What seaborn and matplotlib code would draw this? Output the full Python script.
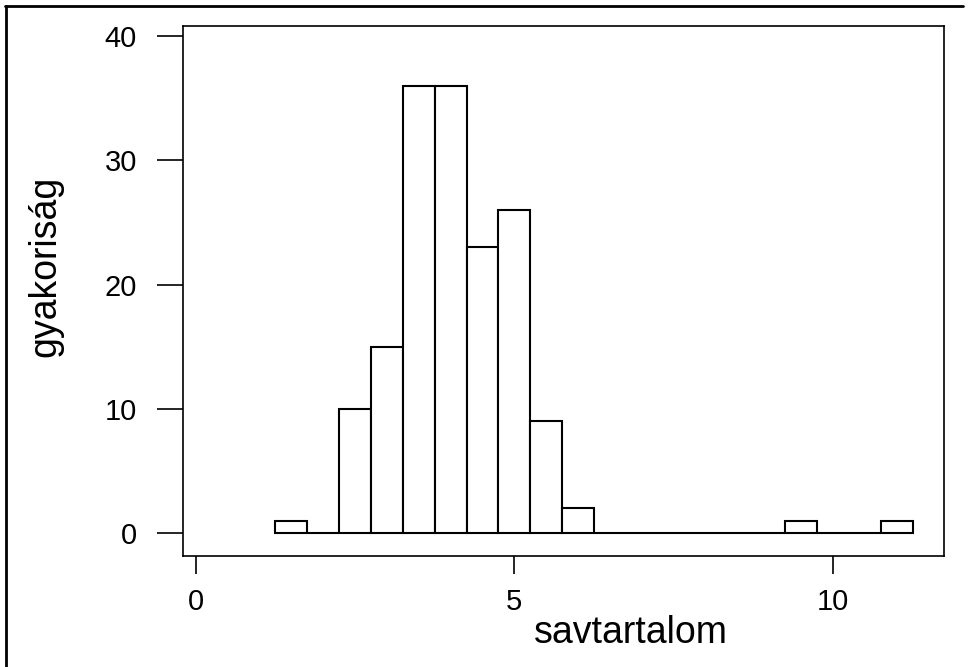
import pandas as pd
import seaborn as sns
from matplotlib import pyplot as plt
from matplotlib.lines import Line2D

# histogram of savtartalom (bin width 0.5, first bin starts at 1.25)
bin_mids = [1.5, 2.0, 2.5, 3.0, 3.5, 4.0, 4.5, 5.0, 5.5, 6.0,
            6.5, 7.0, 7.5, 8.0, 8.5, 9.0, 9.5, 10.0, 10.5, 11.0]
counts = [1, 0, 10, 15, 36, 36, 23, 26, 9, 2, 0, 0, 0, 0, 0, 0, 1, 0, 0, 1]
x_ticks = [0, 5, 10]
y_ticks = [0, 10, 20, 30, 40]

sns.set_style("ticks")
plt.rcParams["font.family"] = ["Liberation Sans", "DejaVu Sans"]
plt.rcParams["text.color"] = "black"
plt.rcParams["axes.labelcolor"] = "black"

df = pd.DataFrame({"savtartalom": bin_mids, "n": counts})

fig = plt.figure(figsize=(9.68, 6.67), dpi=100)
ax = fig.add_axes([0.189, 0.166, 0.786, 0.795])

sns.histplot(
    data=df, x="savtartalom", weights="n", binwidth=0.5, binrange=(1.25, 11.25),
    color="white", edgecolor="black", linewidth=1.5, alpha=1,
    ax=ax
)

ax.set_xlim(-0.2, 11.74)
ax.set_ylim(-1.85, 40.8)
ax.set_xticks(x_ticks)
ax.set_yticks(y_ticks)
ax.tick_params(axis="both", labelsize=21, width=1.2, color="black", labelcolor="black")
ax.tick_params(axis="y", length=19, pad=14)
ax.tick_params(axis="x", length=13, pad=10)
for s in ax.spines.values():
    s.set_visible(True)
    s.set_linewidth(1.2)
    s.set_color("black")

ax.set_xlabel("savtartalom", fontsize=27)
ax.set_ylabel("gyakoriság", fontsize=27)
ax.xaxis.set_label_coords(0.589, -0.11)
ax.yaxis.set_label_coords(-0.157, 0.547)

# outer frame (top and left only, the rest is cropped)
fig.add_artist(Line2D([0.005, 0.995], [0.991, 0.991], transform=fig.transFigure,
                      color="black", linewidth=2))
fig.add_artist(Line2D([0.0062, 0.0062], [0.0, 0.991], transform=fig.transFigure,
                      color="black", linewidth=2))

fig.savefig("out.png", dpi=100)
